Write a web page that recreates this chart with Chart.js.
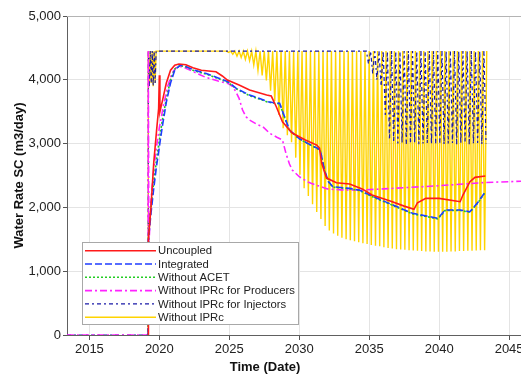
<!DOCTYPE html>
<html>
<head>
<meta charset="utf-8">
<script src="https://cdn.jsdelivr.net/npm/chart.js@4.4.1/dist/chart.umd.min.js"></script>
<style>
  html, body { margin: 0; padding: 0; background: #fff; overflow: hidden; }
</style>
</head>
<body>
<canvas id="myChart" width="540" height="374"></canvas>
<script>
const seriesNames = ['Uncoupled', 'Integrated', 'Without ACET', 'Without IPRc for Producers', 'Without IPRc for Injectors', 'Without IPRc'];
const xTicks = [2015, 2020, 2025, 2030, 2035, 2040, 2045];
const yTicks = [0, 1000, 2000, 3000, 4000, 5000];

// Uncoupled
const uncoupledYears = [2019.2, 2019.22, 2019.4, 2019.6, 2019.8, 2019.95, 2020.0, 2020.04, 2020.2, 2020.5, 2020.8, 2021.1, 2021.4, 2021.9, 2022.4, 2023.0, 2024.05, 2024.5, 2024.86, 2025.7, 2026.45, 2027.67, 2028.0, 2028.36, 2028.8, 2029.5, 2030.4, 2031.25, 2031.45, 2031.6, 2031.95, 2032.66, 2033.6, 2034.5, 2035.2, 2036.5, 2037.5, 2038.2, 2038.45, 2039.05, 2040.0, 2041.5, 2041.7, 2042.2, 2042.56, 2043.3];
const uncoupledRates = [0, 1500, 2000, 2700, 3200, 3550, 4070, 3500, 3650, 3950, 4150, 4230, 4247, 4235, 4190, 4150, 4126, 4060, 3996, 3917, 3839, 3761, 3745, 3578, 3342, 3165, 3060, 2977, 2930, 2695, 2460, 2386, 2366, 2290, 2194, 2100, 2020, 1970, 2073, 2142, 2142, 2089, 2194, 2403, 2471, 2491];

// Integrated
const integratedYears = [2019.2, 2019.22, 2019.4, 2019.6, 2019.8, 2020.0, 2020.2, 2020.5, 2020.8, 2021.1, 2021.5, 2021.9, 2022.5, 2023.35, 2024.2, 2024.9, 2025.5, 2026.45, 2027.0, 2027.76, 2028.2, 2028.6, 2028.9, 2029.3, 2030.0, 2030.6, 2031.3, 2031.5, 2031.8, 2032.1, 2032.4, 2033.6, 2034.3, 2035.5, 2036.7, 2038.1, 2039.0, 2039.9, 2040.2, 2040.4, 2041.5, 2042.2, 2042.8, 2043.3];
const integratedRates = [0, 1500, 1900, 2300, 2650, 2950, 3250, 3650, 3950, 4150, 4231, 4210, 4150, 4100, 4030, 3970, 3866, 3760, 3720, 3657, 3640, 3631, 3450, 3212, 3080, 3004, 2926, 2900, 2586, 2400, 2324, 2298, 2272, 2150, 2037, 1907, 1870, 1829, 1900, 1959, 1959, 1932, 2089, 2246];

// Without ACET
const acetYears = [2019.2, 2019.22, 2019.4, 2019.6, 2019.8, 2020.0, 2020.2, 2020.5, 2020.8, 2021.1, 2021.5, 2021.9, 2022.5, 2023.35, 2024.2, 2024.9, 2025.5, 2026.45, 2027.0, 2027.76, 2028.2, 2028.6, 2028.9, 2029.3, 2030.0, 2030.6, 2031.3, 2031.5, 2031.8, 2032.1, 2032.4, 2033.6, 2034.3, 2035.5, 2036.7, 2038.1, 2039.0, 2039.9, 2040.2, 2040.4, 2041.5, 2042.2, 2042.8, 2043.3];
const acetRates = [0, 1550, 2000, 2400, 2750, 3050, 3350, 3700, 4000, 4170, 4225, 4200, 4140, 4090, 4020, 3960, 3860, 3750, 3710, 3650, 3635, 3625, 3440, 3205, 3075, 3000, 2920, 2895, 2580, 2395, 2318, 2292, 2265, 2140, 2030, 1898, 1860, 1820, 1890, 1950, 1952, 1925, 2080, 2240];

// Without IPRc for Producers
const producersYears = [2013.4, 2019.2, 2019.21, 2019.25, 2019.4, 2019.6, 2019.8, 2020.0, 2020.3, 2020.6, 2020.9, 2021.2, 2021.5, 2021.9, 2022.5, 2023.3, 2024.2, 2024.9, 2025.25, 2025.5, 2025.7, 2025.95, 2026.2, 2026.45, 2027.0, 2027.4, 2027.9, 2028.4, 2028.8, 2029.05, 2029.3, 2029.5, 2030.0, 2030.6, 2031.2, 2032.0, 2033.0, 2034.3, 2036.0, 2038.0, 2040.0, 2042.0, 2043.3, 2045.85];
const producersRates = [0, 0, 4450, 1400, 2100, 2600, 2950, 3250, 3600, 3900, 4100, 4190, 4210, 4180, 4120, 4040, 3980, 3944, 3891, 3800, 3709, 3526, 3420, 3369, 3300, 3264, 3160, 3100, 3056, 2847, 2680, 2586, 2481, 2400, 2351, 2290, 2275, 2272, 2290, 2315, 2340, 2370, 2390, 2410];

// Without IPRc for Injectors
const injectorsYears = [2013.4, 2019.2, 2019.21, 2019.28, 2019.35, 2019.42, 2019.49, 2019.56, 2019.63, 2019.7, 2019.77, 2034.8,
  2034.95, 2035.10, 2035.25, 2035.40, 2035.55, 2035.70, 2035.85, 2036.00, 2036.15, 2036.30,
  2036.45, 2036.60, 2036.75, 2036.90, 2037.05, 2037.20, 2037.35, 2037.50, 2037.65, 2037.80,
  2037.95, 2038.10, 2038.25, 2038.40, 2038.55, 2038.70, 2038.85, 2039.00, 2039.15, 2039.30,
  2039.45, 2039.60, 2039.75, 2039.90, 2040.05, 2040.20, 2040.35, 2040.50, 2040.65, 2040.80,
  2040.95, 2041.10, 2041.25, 2041.40, 2041.55, 2041.70, 2041.85, 2042.00, 2042.15, 2042.30,
  2042.45, 2042.60, 2042.75, 2042.90, 2043.05, 2043.20, 2043.35];
const injectorsRates = [0, 0, 4450, 3900, 4450, 3950, 4450, 3900, 4450, 3950, 4450, 4450,
  4250, 4450, 4100, 4450, 4000, 4450, 3900, 4450, 3450, 4450,
  3060, 4450, 3020, 4450, 3000, 4450, 3010, 4450, 2990, 4450,
  3000, 4450, 3010, 4450, 2990, 4450, 3000, 4450, 3010, 4450,
  2990, 4450, 3000, 4450, 3010, 4450, 2990, 4450, 3000, 4450,
  3010, 4450, 2990, 4450, 3000, 4450, 3010, 4450, 2990, 4450,
  3000, 4450, 3010, 4450, 2990, 4450, 3000];

// Without IPRc
const noIprYears = [2019.2, 2019.21, 2019.28, 2019.35, 2019.42, 2019.49, 2019.56, 2019.63, 2019.7, 2019.77, 2024.8,
  2024.95, 2025.10, 2025.25, 2025.40, 2025.55, 2025.70, 2025.85, 2026.00, 2026.15, 2026.30,
  2026.45, 2026.60, 2026.75, 2026.90, 2027.05, 2027.20, 2027.35, 2027.50, 2027.65, 2027.80,
  2027.95, 2028.10, 2028.25, 2028.40, 2028.55, 2028.70, 2028.85, 2029.00, 2029.15, 2029.30,
  2029.45, 2029.60, 2029.75, 2029.90, 2030.05, 2030.20, 2030.35, 2030.50, 2030.65, 2030.80,
  2030.95, 2031.10, 2031.25, 2031.40, 2031.55, 2031.70, 2031.85, 2032.00, 2032.15, 2032.30,
  2032.45, 2032.60, 2032.75, 2032.90, 2033.05, 2033.20, 2033.35, 2033.50, 2033.65, 2033.80,
  2033.95, 2034.10, 2034.25, 2034.40, 2034.55, 2034.70, 2034.85, 2035.00, 2035.15, 2035.30,
  2035.45, 2035.60, 2035.75, 2035.90, 2036.05, 2036.20, 2036.35, 2036.50, 2036.65, 2036.80,
  2036.95, 2037.10, 2037.25, 2037.40, 2037.55, 2037.70, 2037.85, 2038.00, 2038.15, 2038.30,
  2038.45, 2038.60, 2038.75, 2038.90, 2039.05, 2039.20, 2039.35, 2039.50, 2039.65, 2039.80,
  2039.95, 2040.10, 2040.25, 2040.40, 2040.55, 2040.70, 2040.85, 2041.00, 2041.15, 2041.30,
  2041.45, 2041.60, 2041.75, 2041.90, 2042.05, 2042.20, 2042.35, 2042.50, 2042.65, 2042.80,
  2042.95, 2043.10, 2043.25, 2043.40];
const noIprRates = [0, 4450, 3900, 4450, 3950, 4450, 3900, 4450, 3950, 4450, 4450,
  4430, 4450, 4400, 4450, 4370, 4450, 4350, 4450, 4320, 4450,
  4300, 4450, 4230, 4450, 4150, 4450, 4070, 4450, 3990, 4450,
  3830, 4450, 3670, 4450, 3450, 4450, 3240, 4450, 3130, 4450,
  3020, 4450, 2780, 4450, 2510, 4450, 2300, 4450, 2180, 4450,
  2050, 4450, 1930, 4450, 1820, 4450, 1710, 4450, 1640, 4450,
  1590, 4450, 1555, 4450, 1525, 4450, 1500, 4450, 1485, 4450,
  1470, 4450, 1455, 4450, 1440, 4450, 1425, 4450, 1410, 4450,
  1400, 4450, 1390, 4450, 1375, 4450, 1365, 4450, 1355, 4450,
  1345, 4450, 1340, 4450, 1335, 4450, 1330, 4450, 1325, 4450,
  1320, 4450, 1315, 4450, 1310, 4450, 1310, 4450, 1305, 4450,
  1305, 4450, 1305, 4450, 1305, 4450, 1310, 4450, 1310, 4450,
  1315, 4450, 1315, 4450, 1320, 4450, 1320, 4450, 1325, 4450,
  1330, 4450, 1330, 4450];

const fontFamily = '"Liberation Sans", Arial, sans-serif';

function toPoints(xs, ys) {
    return xs.map((x, i) => ({x: x, y: ys[i]}));
}

const data = {
    datasets: [
        {label: seriesNames[0], data: toPoints(uncoupledYears, uncoupledRates), borderColor: '#ff1a1a', borderWidth: 1.6, borderDash: []},
        {label: seriesNames[1], data: toPoints(integratedYears, integratedRates), borderColor: '#1f3cff', borderWidth: 1.6, borderDash: [7, 3]},
        {label: seriesNames[2], data: toPoints(acetYears, acetRates), borderColor: '#22cc22', borderWidth: 1.6, borderDash: [2, 2]},
        {label: seriesNames[3], data: toPoints(producersYears, producersRates), borderColor: '#ff22ff', borderWidth: 1.6, borderDash: [7, 3, 2, 3]},
        {label: seriesNames[4], data: toPoints(injectorsYears, injectorsRates), borderColor: '#1a1aa8', borderWidth: 1.2, borderDash: [4, 3, 2, 3]},
        {label: seriesNames[5], data: toPoints(noIprYears, noIprRates), borderColor: '#ffd400', borderWidth: 1.4, borderDash: []}
    ]
};

// legend box inside the plot + top border + x title
const boxLegend = {
    id: 'boxLegend',
    beforeDatasetsDraw(chart) {
        const {ctx, chartArea} = chart;
        ctx.save();
        ctx.strokeStyle = '#b4b4b4';
        ctx.lineWidth = 1;
        ctx.beginPath();
        ctx.moveTo(chartArea.left, chartArea.top + 0.5);
        ctx.lineTo(chartArea.right, chartArea.top + 0.5);
        ctx.stroke();
        ctx.restore();
    },
    afterDatasetsDraw(chart) {
        const ctx = chart.ctx;
        ctx.save();
        ctx.fillStyle = '#ffffff';
        ctx.fillRect(83, 243, 216, 82);
        ctx.strokeStyle = '#a8a8a8';
        ctx.lineWidth = 1;
        ctx.strokeRect(82.5, 242.5, 216, 82);
        ctx.font = '11.3px ' + fontFamily;
        ctx.textBaseline = 'middle';
        chart.data.datasets.forEach((ds, i) => {
            const y = 250.7 + i * 13.3;
            ctx.beginPath();
            ctx.setLineDash(ds.borderDash);
            ctx.strokeStyle = ds.borderColor;
            ctx.lineWidth = Math.max(ds.borderWidth, 1.4);
            ctx.moveTo(85, y);
            ctx.lineTo(156, y);
            ctx.stroke();
            ctx.setLineDash([]);
            ctx.fillStyle = '#222';
            ctx.fillText(ds.label, 158, y + 0.5);
        });
        ctx.font = 'bold 13px ' + fontFamily;
        ctx.fillStyle = '#111';
        ctx.textAlign = 'center';
        ctx.textBaseline = 'middle';
        ctx.fillText('Time (Date)', 265, 367);
        ctx.restore();
    }
};

const config = {
    type: 'line',
    data: data,
    options: {
        responsive: false,
        animation: false,
        events: [],
        layout: {padding: {top: 16, right: 19, left: 0, bottom: 0}},
        elements: {point: {radius: 0}, line: {tension: 0, fill: false}},
        plugins: {legend: {display: false}, tooltip: {enabled: false}},
        scales: {
            x: {
                type: 'linear',
                min: 2013.4,
                max: 2045.85,
                afterBuildTicks: scale => { scale.ticks = xTicks.map(v => ({value: v})); },
                ticks: {
                    color: '#222',
                    font: {size: 13, family: fontFamily},
                    padding: 2,
                    maxRotation: 0,
                    callback: v => String(v)
                },
                grid: {color: '#e4e4e4', tickColor: '#555', tickLength: 5},
                border: {color: '#606060', width: 1},
                afterFit: s => { s.height = 39; }
            },
            y: {
                min: 0,
                max: 5000,
                afterBuildTicks: scale => { scale.ticks = yTicks.map(v => ({value: v})); },
                ticks: {
                    color: '#222',
                    font: {size: 13, family: fontFamily},
                    padding: 2,
                    callback: v => v.toLocaleString('en-US')
                },
                grid: {color: '#e4e4e4', tickColor: '#555', tickLength: 4},
                border: {color: '#606060', width: 1},
                title: {
                    display: true,
                    text: 'Water Rate SC (m3/day)',
                    color: '#111',
                    font: {size: 13, weight: 'bold', family: fontFamily},
                    padding: {top: 12, bottom: 0}
                },
                afterFit: s => { s.width = 67; }
            }
        }
    },
    plugins: [boxLegend]
};

const myChart = new Chart(document.getElementById('myChart'), config);
</script>
</body>
</html>
